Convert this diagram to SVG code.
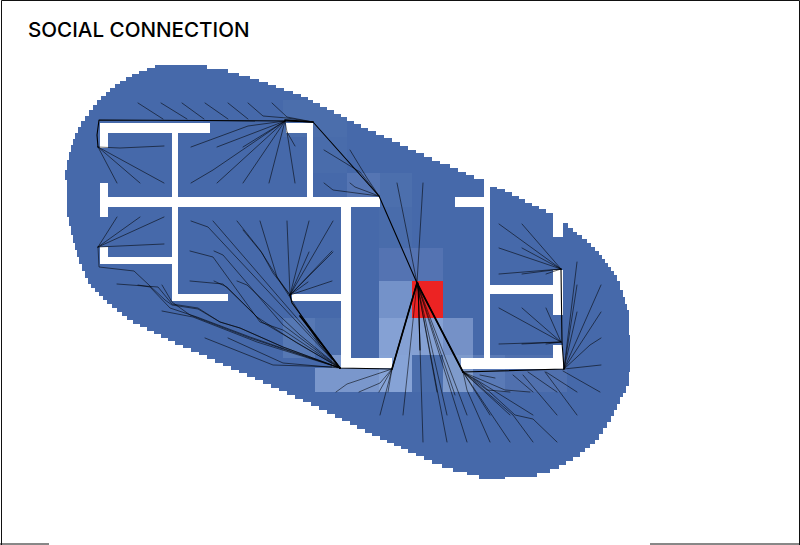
<svg xmlns="http://www.w3.org/2000/svg" width="800" height="545" viewBox="0 0 800 545">
<style>
.t{font-family:"Inter","Liberation Sans",sans-serif;font-size:20.6px;font-weight:500;fill:#000}
.w{fill:#fff}
.l{fill:none;stroke:#000;stroke-width:.65;stroke-linejoin:round;stroke-linecap:round;stroke-opacity:.85}
.r{fill:none;stroke:#000;stroke-width:1.1;stroke-linejoin:round;stroke-linecap:round}
.b{fill:none;stroke:#000;stroke-width:1.7;stroke-linejoin:round;stroke-linecap:round}
.f{shape-rendering:crispEdges}
</style>
<defs>
<path id="outline" d="M164 65H207V69H228V73H239V76H250V79H259V82H268V85H276V88H284V91H293V94H301V97H308V100H313V103H320V107H327V110H334V114H341V117H347V121H354V124H361V128H368V131H376V135H384V138H392V142H400V146H408V150H416V153H424V157H432V161H440V164H450V168H458V172H466V175H474V179H484V183H490V187H497V189H505V192H512V196H519V199H525V203H532V206H539V209H546V213H553V237H563V223H568V228H573V232H577V235H582V239H587V243H591V247H595V251H599V255H602V259H605V263H608V267H611V271H614V275H617V281H620V290H623V297H625V304H627V310H629V335H630V372H629V386H626V393H623V397H620V404H617V410H614V416H611V422H607V428H603V434H599V440H595V444H590V448H585V452H580V457H573V461H566V465H559V469H550V473H537V477H505V479H479V475H467V472H453V468H442V464H432V460H424V456H416V453H408V449H401V446H394V443H387V440H380V436H372V433H365V429H357V425H350V421H342V418H335V414H327V410H319V406H311V402H303V399H295V395H287V391H279V388H271V384H263V380H255V377H247V373H239V370H231V366H223V363H215V359H207V355H199V352H191V348H183V345H175V341H168V338H161V334H154V331H147V327H140V324H133V320H127V316H122V312H117V308H112V304H107V300H103V296H99V292H95V288H91V284H88V278H85V271H82V264H79V257H77V250H75V243H73V235H71V226H69V217H67V180H65V170H67V160H69V152H71V145H73V139H75V133H78V127H81V121H85V116H89V110H93V105H97V100H101V96H106V92H110V88H115V84H120V81H126V77H132V74H139V71H147V68H155V65Z"/>
<clipPath id="inside"><use href="#outline"/></clipPath>
</defs>
<rect width="800" height="545" fill="#fff"/>
<g id="frame" fill="none" stroke="#111" stroke-width="1">
<path d="M1.5 545V.5H799.5V545"/>
<path d="M0 544H49M650 544H800"/>
</g>
<text id="title" class="t" x="28" y="36.5">SOCIAL CONNECTION</text>
<use id="field" class="f" href="#outline" fill="#4669aa"/>
<g id="heat" class="f" clip-path="url(#inside)">
<rect x="283" y="100" width="64" height="37" fill="#4b6eac"/>
<rect x="313" y="137" width="34" height="36" fill="#496cab"/>
<rect x="347" y="173" width="33" height="34" fill="#5575b3"/>
<rect x="380" y="173" width="32" height="34" fill="#4c6fad"/>
<rect x="379" y="207" width="33" height="41" fill="#496cab"/>
<rect x="379" y="248" width="64" height="33" fill="#5473b2"/>
<rect x="379" y="281" width="33" height="37" fill="#7492c9"/>
<rect x="379" y="318" width="33" height="37" fill="#85a1d4"/>
<rect x="412" y="318" width="31" height="37" fill="#85a1d4"/>
<rect x="443" y="318" width="30" height="37" fill="#7591c7"/>
<rect x="283" y="318" width="32" height="40" fill="#5678b4"/>
<rect x="315" y="318" width="27" height="37" fill="#4c6fad"/>
<rect x="332" y="355" width="10" height="13" fill="#7a97cc"/>
<rect x="315" y="368" width="64" height="24" fill="#7a97cc"/>
<rect x="379" y="355" width="33" height="37" fill="#86a3d6"/>
<rect x="412" y="355" width="31" height="37" fill="#4a6dac"/>
<rect x="443" y="355" width="30" height="37" fill="#7f9bcc"/>
<rect x="473" y="355" width="32" height="37" fill="#5a7ab6"/>
<rect x="505" y="355" width="62" height="37" fill="#5070ae"/>
<rect x="412" y="281" width="31" height="37" fill="#ec2323"/>
</g>
<g id="walls" class="w f">
<rect x="100" y="123" width="110" height="10"/>
<rect x="100" y="123" width="8" height="25"/>
<rect x="172" y="133" width="6" height="64"/>
<rect x="286" y="123" width="27" height="10"/>
<rect x="307" y="133" width="6" height="64"/>
<rect x="100" y="183" width="8" height="34"/>
<rect x="100" y="197" width="280" height="10"/>
<rect x="172" y="207" width="6" height="94"/>
<rect x="172" y="294" width="56" height="7"/>
<rect x="100" y="247" width="8" height="17"/>
<rect x="100" y="257" width="72" height="7"/>
<rect x="341" y="207" width="10" height="161"/>
<rect x="341" y="358" width="51" height="10"/>
<rect x="292" y="294" width="49" height="7"/>
<rect x="455" y="197" width="29" height="10"/>
<rect x="484" y="183" width="6" height="175"/>
<rect x="490" y="285" width="73" height="9"/>
<rect x="553" y="270" width="10" height="45"/>
<rect x="553" y="345" width="10" height="24"/>
<rect x="461" y="358" width="102" height="11"/>
</g>
<g id="connectors">
<path class="r" d="M417 283L379 196L313 122L285 121L200 120.500L99 120L97 135L98 147"/>
<path class="r" d="M417 283L392 369L340 368L292 303L290 295"/>
<path class="r" d="M417 283L463 372L564 369L562 342L561 269"/>
<path class="b" d="M313 122L285 120M340 368L300 316M417 283L392 369M417 283L463 372"/>
<path class="l" d="M98 147L120 148L164 146"/>
<path class="l" d="M138 103L163 119M161 103L187 119M182 103L204 119M205 103L228 119M228 103L248 119M248 103L263 116L287 118L313 122M272 103L287 117L313 122"/>
<path class="l" d="M98 147L164 183M98 147L140 183M98 147L117 183"/>
<path class="l" d="M285 121L248 126L191 147M285 121L217 147M285 121L243 147M285 121L213 170L191 183M285 121L217 183M285 121L243 183M285 121L269 183M285 121L287 132L295 183M287 132L295 146"/>
<path class="l" d="M98 247L164 217M98 247L140 217M98 247L117 217M98 247L164 244"/>
<path class="l" d="M98 247L99 267L134 271L165 300L172 305L198 309L220 322L240 328L283 347L340 368"/>
<path class="l" d="M117 284L158 287L172 304L198 308L220 322L240 328L283 347L340 368M138 285L150 287L170 308L197 317L250 337L340 368M162 285L172 302L190 315L250 338L340 368M162 311L193 317L257 342L340 368M205 338L273 365L337 367M228 338L283 363L340 368"/>
<path class="l" d="M190 251L213 257L260 322L283 330L340 368M214 251L223 255L283 325L340 368M190 281L223 284L257 317L297 343L340 368M214 281L227 287L262 322L340 368M237 281L247 285L300 335L340 368"/>
<path class="l" d="M191 221L208 227L340 368M213 221L340 368M237 221L260 250L320 345L340 368M243 230L262 253L273 273L290 295"/>
<path class="l" d="M260 221L277 277L290 295M287 221L290 295M309 221L290 295M333 221L290 295M333 252L290 295M309 252L290 295M332 281L290 295M308 282L290 295M332 251L290 295"/>
<path class="l" d="M324 150L360 172L379 196M350 150L367 178L379 196M324 183L333 190L379 196M350 183L355 187L379 196"/>
<path class="l" d="M397 183L417 283M423 183L417 283"/>
<path class="l" d="M380 415L392 369M403 415L417 283M336 392L347 384L392 369M359 392L380 383L392 369M379 392L392 369M388 392L392 369"/>
<path class="l" d="M423 442L418 283M447 442L417 283M447 415L417 283M467 442L417 283M467 415L417 283M437 392L417 283M455 395L417 283"/>
<path class="r" d="M418 283L420 350"/>
<path class="l" d="M490 442L467 390L463 372M510 442L463 372M533 442L513 415L463 372M557 442L533 419L515 415L480 383L463 372M490 415L463 372M510 415L463 372M533 415L480 382L463 372M557 415L523 375M577 415L545 372M577 392L546 372M557 392L528 372M533 392L513 375M600 392L563 371M510 392L487 390L463 372M530 392L505 390L463 372M495 378L480 375"/>
<path class="l" d="M601 365L564 369M601 338L590 345L564 369M601 312L564 369M601 285L564 369M577 312L564 369M577 285L564 369M577 262L564 369"/>
<path class="l" d="M499 224L561 269M522 224L561 269M499 248L561 269M522 248L561 269M499 274L561 269M522 274L561 269M546 274L561 269"/>
<path class="l" d="M499 308L561 342M522 308L561 342M546 308L561 342M499 344L561 342M522 344L561 342M546 344L561 342"/>
</g>
</svg>
